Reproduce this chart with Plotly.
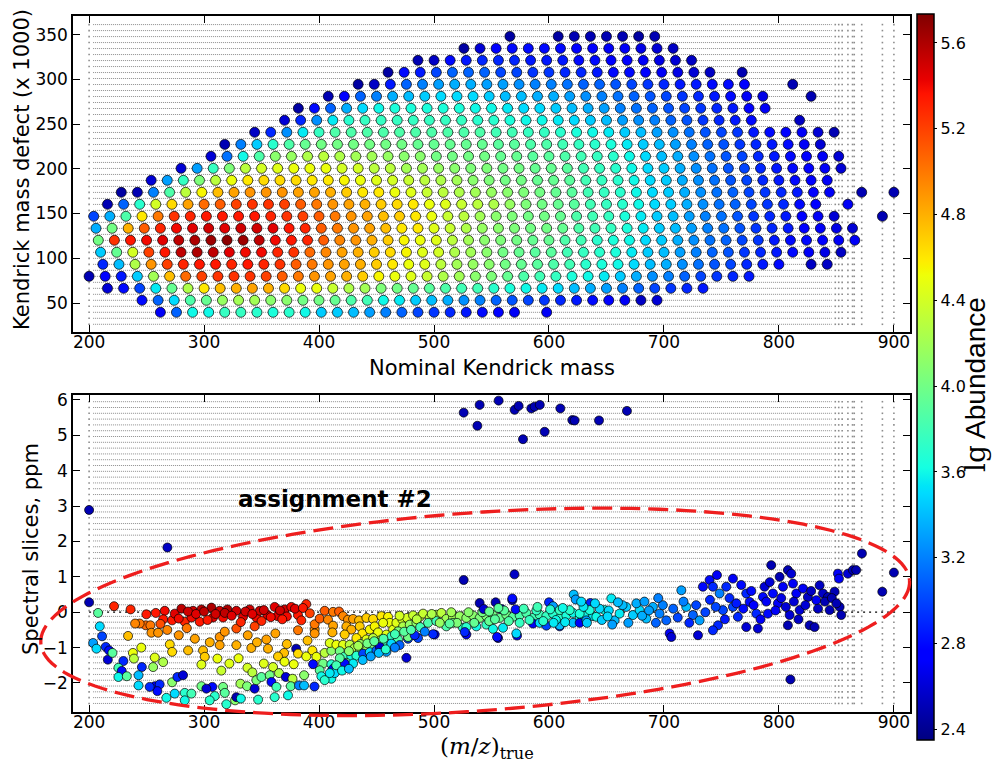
import numpy as np
import plotly.graph_objects as go

# ---------------- TOP PANEL DATA (Kendrick plot) ----------------
# Kendrick mass defect (x1000) of each homologous row (bottom -> top)
KMD_ROWS = [39.6, 53.0, 66.4, 79.8, 93.2, 106.7, 120.1, 133.5, 146.9, 160.3, 173.7, 187.1,
            200.5, 213.9, 227.3, 240.8, 254.2, 267.6, 281.0, 294.4, 307.8, 321.2, 334.6, 348.0]
# first nominal Kendrick mass of each row; members follow every CH2 (14 Da)
ROW_START = [262, 246, 216, 200, 212, 210, 208, 206, 204, 216, 228, 254,
             280, 306, 318, 344, 370, 382, 408, 434, 460, 486, 526, 566]
CH2_STEP = 14
# lg abundance of successive members of each row (None = missing member)
ROW_ABUND = [
    [2.7, 3.1, 3.6, 3.6, 3.75, 3.75, 3.7, 3.65, 3.7, 3.6, 3.45, 3.45, 3.4, 3.3, 3.2, 3.1, 3.0, 2.95, 2.9, 2.85,
     2.8, 2.75, 2.7, None, 2.7],
    [2.8, 3.1, 3.5, 3.85, 3.95, 4.15, 4.2, 4.2, 4.1, 4.1, 4.0, 4.0, 3.95, 3.85, 3.8, 3.6, 3.55, 3.45, 3.4, 3.35,
     3.25, 3.2, 3.1, 3.05, 3.0, 2.95, 2.9, 2.85, 2.8, 2.75, 2.7, 2.55, 2.6],
    [2.6, 2.8, 3.0, 3.55, 3.95, 4.25, 4.6, 4.75, 4.8, 4.85, 4.8, 4.65, 4.5, 4.5, 4.35, 4.25, 4.2, 4.05, 4.0, 3.95,
     3.9, 3.85, 3.8, 3.8, 3.7, 3.65, 3.6, 3.55, 3.5, 3.4, 3.35, 3.3, 3.2, 3.1, 3.0, 2.95, 2.9, 2.85],
    [2.5, 2.75, 2.85, 3.45, 4.2, 4.75, 5.05, 5.2, 5.25, 5.25, 5.25, 5.2, 5.1, 5.0, 4.9, 4.85, 4.8, 4.7, 4.55, 4.5,
     4.45, 4.35, 4.25, 4.2, 4.1, 4.05, 3.95, 3.85, 3.8, 3.75, 3.65, 3.6, 3.55, 3.45, 3.35, 3.25, 3.2, 3.1, 3.0,
     2.95, 2.9, 2.85],
    [2.9, 3.4, 4.25, 4.9, 5.2, 5.3, 5.35, 5.35, 5.3, 5.35, 5.3, 5.25, 5.1, 5.0, 4.9, 4.85, 4.8, 4.7, 4.6, 4.5,
     4.45, 4.3, 4.2, 4.15, 4.1, 4.0, 3.95, 3.9, 3.85, 3.8, 3.7, 3.65, 3.6, 3.5, 3.4, 3.35, 3.25, 3.15, 3.05, 3.0,
     2.9, 2.85, 2.8, None, 2.55, 2.55],
    [3.45, 3.95, 4.4, 5.2, 5.35, 5.55, 5.6, 5.55, 5.45, 5.4, 5.4, 5.3, 5.25, 5.05, 4.95, 4.85, 4.8, 4.7, 4.65, 4.55,
     4.45, 4.4, 4.25, 4.2, 4.1, 4.0, 3.95, 3.9, 3.9, 3.8, 3.75, 3.7, 3.65, 3.55, 3.45, 3.4, 3.3, 3.2, 3.1, 3.05,
     2.95, 2.9, 2.85, 2.8, 2.7, 2.65, 2.55],
    [4.0, 5.25, 5.35, 5.4, 5.45, 5.55, 5.6, 5.65, 5.7, 5.65, 5.55, 5.4, 5.35, 5.3, 5.1, 4.95, 4.9, 4.8, 4.7, 4.55,
     4.5, 4.45, 4.3, 4.2, 4.1, 4.05, 4.0, 3.95, 3.95, 3.85, 3.8, 3.7, 3.65, 3.6, 3.5, 3.45, 3.35, 3.25, 3.15, 3.1,
     3.0, 2.95, 2.85, 2.8, 2.8, 2.75, 2.7, 2.7],
    [3.35, 4.0, 4.8, 5.1, 5.3, 5.4, 5.45, 5.5, 5.45, 5.5, 5.5, 5.45, 5.35, 5.3, 5.1, 5.0, 4.9, 4.85, 4.75, 4.6,
     4.6, 4.45, 4.35, 4.25, 4.15, 4.1, 4.05, 4.0, 4.0, 3.95, 3.85, 3.8, 3.75, 3.65, 3.55, 3.45, 3.4, 3.3, 3.2, 3.15,
     3.05, 2.95, 2.9, 2.85, 2.75, 2.7, 2.65, 2.6],
    [3.0, 3.35, 3.85, 4.6, 5.0, 5.25, 5.3, 5.35, 5.35, 5.35, 5.35, 5.3, 5.25, 5.2, 5.1, 5.0, 4.9, 4.85, 4.75, 4.7,
     4.6, 4.5, 4.35, 4.3, 4.2, 4.1, 4.05, 4.0, 4.0, 3.95, 3.85, 3.8, 3.75, 3.65, 3.55, 3.45, 3.4, 3.3, 3.2, 3.15,
     3.05, 2.95, 2.9, 2.85, 2.75, 2.7, 2.6, None, None, 2.5],
    [2.5, 3.1, 3.7, 4.4, 4.65, 4.85, 5.05, 5.1, 5.2, 5.25, 5.25, 5.2, 5.1, 5.0, 4.9, 4.85, 4.8, 4.7, 4.65, 4.6,
     4.5, 4.45, 4.35, 4.3, 4.25, 4.15, 4.05, 4.0, 3.95, 3.9, 3.8, 3.75, 3.7, 3.6, 3.5, 3.45, 3.35, 3.25, 3.15, 3.1,
     3.0, 2.95, 2.9, 2.8, 2.75, None, 2.7],
    [2.45, 2.5, 3.2, 3.85, 4.3, 4.55, 4.75, 4.85, 4.9, 4.9, 4.9, 4.85, 4.85, 4.8, 4.7, 4.6, 4.6, 4.5, 4.45, 4.35,
     4.3, 4.25, 4.2, 4.15, 4.1, 4.05, 4.0, 3.95, 3.9, 3.8, 3.75, 3.7, 3.6, 3.5, 3.45, 3.35, 3.25, 3.15, 3.1, 3.0,
     2.95, 2.9, 2.85, 2.75, 2.7, None, 2.5, None, 2.5],
    [2.6, 3.3, 3.75, 4.05, 4.3, 4.5, 4.6, 4.65, 4.65, 4.65, 4.6, 4.6, 4.55, 4.5, 4.45, 4.4, 4.35, 4.3, 4.25, 4.2,
     4.1, 4.05, 4.0, 4.0, 3.95, 3.95, 3.9, 3.8, 3.75, 3.7, 3.6, 3.5, 3.45, 3.35, 3.25, 3.15, 3.05, 3.0, 2.9, 2.85,
     2.8, 2.75, 2.7],
    [2.6, 3.3, 3.75, 4.05, 4.3, 4.4, 4.45, 4.5, 4.5, 4.5, 4.4, 4.4, 4.3, 4.3, 4.2, 4.2, 4.15, 4.1, 4.05, 4.05,
     4.0, 4.0, 3.95, 3.95, 3.9, 3.8, 3.75, 3.7, 3.6, 3.5, 3.45, 3.35, 3.25, 3.15, 3.05, 3.0, 2.9, 2.85, 2.8, 2.75,
     2.7, 2.6],
    [2.6, 3.15, 3.6, 3.85, 4.1, 4.15, 4.25, 4.3, 4.25, 4.2, 4.2, 4.15, 4.1, 4.1, 4.0, 4.0, 4.0, 4.0, 3.95, 3.95,
     3.9, 3.9, 3.85, 3.8, 3.75, 3.7, 3.6, 3.5, 3.4, 3.35, 3.25, 3.15, 3.05, 3.0, 2.9, 2.85, 2.8, 2.75, 2.7, 2.6],
    [2.5, 3.2, 3.45, 3.7, 3.85, 3.95, 4.0, 4.0, 4.0, 4.0, 4.0, 4.0, 3.95, 3.95, 3.95, 3.95, 3.95, 3.9, 3.9, 3.85,
     3.85, 3.8, 3.75, 3.7, 3.65, 3.55, 3.45, 3.4, 3.3, 3.2, 3.1, 3.05, 2.95, 2.9, 2.85, 2.8, 2.7, 2.6],
    [2.55, 2.9, 3.25, 3.55, 3.75, 3.85, 3.85, 3.85, 3.85, 3.85, 3.85, 3.85, 3.85, 3.85, 3.85, 3.8, 3.8, 3.75, 3.75,
     3.7, 3.65, 3.6, 3.55, 3.45, 3.4, 3.3, 3.25, 3.15, 3.05, 3.0, 2.95, 2.85, 2.8, 2.75, 2.7, 2.6, 2.5],
    [2.6, 2.9, 3.25, 3.55, 3.7, 3.75, 3.75, 3.75, 3.75, 3.75, 3.75, 3.75, 3.7, 3.7, 3.65, 3.6, 3.6, 3.55, 3.5, 3.45,
     3.4, 3.3, 3.25, 3.2, 3.1, 3.05, 2.95, 2.9, 2.85, 2.8, None, None, 2.55],
    [2.45, 2.8, 3.1, 3.35, 3.5, 3.6, 3.65, 3.65, 3.65, 3.65, 3.65, 3.6, 3.6, 3.55, 3.5, 3.5, 3.45, 3.4, 3.35, 3.3,
     3.2, 3.15, 3.1, 3.05, 3.0, 2.95, 2.9, 2.85, 2.75, 2.7],
    [2.5, 2.75, 3.1, 3.2, 3.35, 3.4, 3.45, 3.5, 3.5, 3.5, 3.45, 3.4, 3.4, 3.35, 3.35, 3.3, 3.25, 3.2, 3.15, 3.1,
     3.05, 3.0, 2.95, 2.9, 2.85, 2.8, 2.7, 2.65, None, None, 2.5],
    [2.45, 2.55, 2.85, 3.1, 3.2, 3.3, 3.35, 3.35, 3.3, 3.3, 3.25, 3.2, 3.2, 3.15, 3.1, 3.1, 3.05, 3.0, 2.95, 2.9,
     2.85, 2.85, 2.8, 2.8, 2.75, None, None, 2.5],
    [2.45, 2.8, 2.85, 3.0, 3.1, 3.1, 3.1, 3.0, 3.0, 2.95, 2.95, 2.9, 2.9, 2.85, 2.8, 2.8, 2.75, 2.7, 2.65, 2.6,
     2.55, None, 2.5],
    [2.5, 2.55, 2.8, 2.85, 2.9, 2.9, 2.9, 2.85, 2.85, 2.85, 2.8, 2.8, 2.75, 2.75, 2.7, 2.65, 2.6, 2.55],
    [2.45, 2.6, 2.75, 2.8, 2.8, 2.8, 2.8, 2.75, 2.75, 2.7, 2.7, 2.65, 2.6, 2.55],
    [2.45, None, None, 2.45, 2.5, 2.5, 2.5, 2.5, 2.45, 2.5],
]

# ---------------- BOTTOM PANEL DATA: (m/z, ppm, lg abundance) ----------------
OUTLIERS = [(525.8, 5.64, 2.5), (539.7, 5.86, 2.5), (537.7, 5.27, 2.5), (556.2, 5.98, 2.5), (570.1, 5.72, 2.5),
            (573.6, 5.83, 2.5), (584.6, 5.76, 2.5), (587.5, 5.81, 2.5), (592.0, 5.86, 2.5), (609.9, 5.76, 2.5),
            (620.3, 5.43, 2.5), (622.3, 5.42, 2.5), (643.5, 5.42, 2.5), (667.8, 5.69, 2.5), (596.2, 5.10, 2.5),
            (577.4, 4.89, 2.5), (200.0, 2.89, 2.5), (268.1, 1.83, 2.55), (200.0, 0.28, 2.5), (525.8, 0.91, 2.5),
            (570.0, 1.07, 2.55), (810.0, -1.90, 2.5), (872.2, 1.66, 2.5), (900.0, 1.12, 2.5), (889.9, 0.58, 2.5)]

RED_BAND = [(207.8, -0.02, 3.9), (221.7, 0.17, 5.3), (236.1, 0.08, 5.3), (249.8, -0.06, 5.35), (249.3, -0.37, 5.05),
            (253.3, -0.37, 5.0), (254.2, -0.58, 4.9), (260.0, -0.58, 4.9), (233.9, -0.67, 4.75), (265.8, 0.04, 5.4),
            (264.4, -0.2, 5.35), (272.2, -0.23, 5.35), (274.5, -0.04, 5.45), (280.3, 0.1, 5.55), (283.2, -0.27, 5.3),
            (290.4, 0.04, 5.5), (289.0, -0.15, 5.4), (296.2, -0.27, 5.35), (297.7, 0.08, 5.55), (306.4, 0.13, 5.6),
            (307.8, -0.15, 5.45), (313.6, 0.04, 5.5), (316.5, -0.15, 5.4), (320.3, 0.08, 5.6), (328.1, 0.04, 5.5),
            (328.1, -0.46, 5.15), (333.9, -0.13, 5.45), (339.7, 0.08, 5.5), (345.5, -0.15, 5.4), (348.4, 0.04, 5.5),
            (355.0, -0.08, 5.45), (361.4, 0.15, 5.45), (363.7, -0.11, 5.45), (370.1, 0.08, 5.5), (375.9, 0.15, 5.4),
            (381.7, -0.08, 5.35), (388.9, 0.23, 5.3), (384.6, -0.23, 5.3), (381.7, -0.51, 5.0), (396.2, -0.49, 4.9),
            (396.2, -0.34, 5.0), (400.6, -0.18, 5.1), (404.9, 0.04, 5.1), (412.2, 0.01, 5.0), (396.2, -0.6, 4.9),
            (244.0, -0.32, 5.0), (240.0, -0.32, 4.95), (258.0, -0.02, 5.35), (286.0, 0.02, 5.5), (293.0, -0.05, 5.45),
            (300.0, 0.02, 5.55), (310.0, -0.05, 5.5), (318.0, -0.02, 5.55), (324.0, -0.1, 5.45), (336.0, 0.02, 5.5),
            (342.0, -0.05, 5.45), (352.0, 0.06, 5.5), (358.0, -0.14, 5.4), (366.0, 0.05, 5.5), (372.0, -0.12, 5.4),
            (379.0, 0.1, 5.45), (386.0, 0.12, 5.35), (392.0, -0.03, 5.2), (278.0, -0.18, 5.4), (303.0, -0.22, 5.35),
            (332.0, -0.28, 5.3), (350.0, -0.25, 5.3), (368.0, -0.2, 5.35), (262.0, -0.33, 5.15), (344.0, -0.4, 5.2)]

MID_LEFT = [(313.6, -0.7, 4.9), (313.6, -0.93, 4.85), (328.1, -0.93, 4.8), (354.2, -0.77, 4.85), (341.1, -1.01, 4.8),
            (355.6, -1.03, 4.8), (299.1, -1.08, 4.75), (300.6, -1.26, 4.7), (286.1, -1.08, 4.75), (270.2, -0.91, 4.65),
            (272.2, -1.12, 4.65), (245.4, -1.0, 4.5), (238.1, -1.15, 4.5), (239.0, -1.31, 4.3), (257.1, -1.28, 4.45),
            (255.7, -1.55, 4.15), (264.4, -1.41, 4.25), (311.6, -1.31, 4.5), (297.7, -1.48, 4.45), (337.7, -1.57, 4.4),
            (369.6, -1.15, 4.75), (364.3, -1.25, 4.7), (378.0, -1.47, 4.5), (380.1, -1.03, 2.5), (381.7, -1.17, 4.65),
            (388.9, -1.25, 4.5), (394.2, -1.08, 4.6), (397.7, -1.26, 4.5), (394.8, -1.47, 2.8), (404.9, -1.15, 4.3),
            (410.7, -1.09, 4.1), (403.5, -1.45, 4.0), (400.6, -1.64, 3.9), (402.0, -1.81, 3.6), (410.7, -1.47, 3.7),
            (410.7, -1.69, 3.6), (318.0, -0.55, 4.9), (338.0, -0.65, 4.85), (346.0, -0.85, 4.8), (362.0, -0.6, 4.85),
            (372.0, -0.9, 4.75), (390.0, -0.8, 4.75), (305.0, -0.85, 4.8), (292.0, -0.75, 4.85), (278.0, -0.65, 4.9),
            (268.0, -0.5, 4.95), (285.0, -0.45, 5.0), (322.0, -1.45, 4.45), (330.0, -1.3, 4.5), (352.0, -1.45, 4.45),
            (360.0, -1.55, 4.4), (370.0, -1.4, 4.5), (342.0, -1.7, 4.3), (315.0, -1.65, 4.35)]

LOWER_LEFT = [(209.3, -0.4, 3.5), (211.3, -0.68, 3.0), (203.5, -0.87, 3.3), (206.4, -1.03, 3.5), (214.5, -0.98, 2.9),
              (217.4, -1.08, 2.8), (216.3, -1.34, 2.6), (220.3, -1.15, 3.9), (229.8, -1.38, 2.9), (225.5, -1.57, 3.8),
              (228.4, -1.66, 2.8), (225.5, -1.83, 3.6), (232.8, -1.81, 3.9), (245.9, -1.55, 2.9), (243.0, -1.78, 3.4),
              (243.0, -2.07, 3.5), (257.1, -2.09, 2.7), (261.4, -2.04, 2.9), (259.4, -2.23, 2.8), (252.7, -2.11, 2.9),
              (272.2, -1.98, 4.1), (276.8, -1.83, 2.9), (281.7, -1.78, 2.6), (267.2, -2.42, 3.6), (274.5, -2.3, 3.5),
              (283.2, -2.28, 3.7), (289.0, -2.3, 3.8), (283.2, -2.49, 3.6), (297.7, -2.09, 4.0), (307.2, -2.11, 2.8),
              (302.0, -2.16, 2.6), (309.3, -2.37, 3.7), (304.9, -2.49, 3.7), (316.5, -2.11, 4.0), (318.0, -2.28, 3.9),
              (319.4, -2.6, 3.7), (331.6, -2.02, 4.2), (337.4, -2.09, 4.05), (344.0, -2.16, 2.6), (345.5, -1.92, 4.05),
              (349.9, -1.83, 3.9), (357.1, -1.78, 4.0), (358.6, -1.97, 2.8), (365.2, -1.72, 4.25), (362.9, -2.11, 3.8),
              (371.1, -1.83, 2.6), (376.9, -1.88, 4.3), (375.4, -2.09, 3.9), (347.0, -2.47, 3.7), (361.4, -2.4, 3.7),
              (382.6, -2.07, 3.2), (387.0, -2.07, 3.4), (387.0, -1.78, 4.1), (396.0, -2.1, 2.9), (410.7, -1.88, 3.6),
              (404.9, -1.92, 3.7), (327.0, -2.49, 4.1), (328.1, -2.4, 2.5), (332.0, -2.44, 3.6), (373.0, -2.35, 3.6)]

MID_BAND = [(417.4, 0.02, 5.1), (420.9, -0.11, 4.95), (425.2, -0.21, 4.9), (429.6, -0.19, 4.85), (434.8, -0.23, 4.75),
            (441.2, -0.16, 4.7), (447.0, -0.19, 4.65), (454.2, -0.11, 4.6), (460.0, -0.13, 4.55), (461.5, -0.3, 4.5),
            (407.8, -0.21, 4.95), (412.2, -0.38, 4.85), (411.6, -0.57, 4.8), (423.8, -0.4, 4.8), (428.1, -0.49, 4.8),
            (422.3, -0.63, 4.7), (435.4, -0.4, 4.7), (437.7, -0.6, 4.6), (444.1, -0.49, 4.55), (448.4, -0.4, 4.55),
            (451.3, -0.57, 4.5), (455.7, -0.3, 4.5), (441.2, -0.77, 4.45), (447.0, -0.73, 4.3), (432.5, -0.73, 4.6),
            (454.2, -0.77, 4.3), (458.6, -0.63, 4.45), (464.4, -0.49, 4.45), (467.3, -0.3, 4.45), (472.5, -0.21, 4.4),
            (476.5, -0.16, 4.4), (481.8, -0.09, 4.35), (487.6, -0.13, 4.3), (490.5, -0.04, 4.35), (496.2, -0.16, 4.3),
            (502.0, -0.07, 4.25), (506.4, -0.02, 4.3), (510.7, -0.19, 4.2), (516.5, -0.16, 4.2), (522.3, -0.11, 4.15),
            (528.1, -0.16, 4.1), (533.9, -0.09, 4.1), (539.7, -0.16, 4.05), (545.5, -0.11, 4.05), (551.3, -0.09, 4.0),
            (557.1, -0.16, 3.95), (562.9, -0.07, 4.0), (568.7, -0.13, 3.9), (574.5, -0.09, 3.85), (580.3, -0.02, 3.85),
            (586.1, -0.16, 3.8), (591.9, -0.07, 3.8), (597.7, -0.11, 3.75), (603.5, -0.04, 3.7), (609.3, -0.16, 3.7),
            (615.1, -0.09, 3.65), (620.9, -0.02, 3.6), (626.7, -0.16, 3.6), (632.5, -0.09, 3.6), (638.3, -0.11, 3.55),
            (473.1, -0.4, 4.25), (478.9, -0.35, 4.15), (484.7, -0.3, 4.1), (468.7, -0.54, 4.05), (463.0, -0.68, 3.75),
            (477.4, -0.75, 3.0), (486.1, -0.73, 3.0), (500.6, -0.63, 2.7), (494.8, -0.3, 3.85), (502.0, -0.25, 3.8),
            (510.7, -0.4, 3.85), (516.5, -0.3, 4.0), (525.2, -0.44, 3.7), (528.1, -0.63, 2.7), (536.8, -0.4, 3.6),
            (545.5, -0.35, 3.75), (551.3, -0.47, 3.6), (555.7, -0.73, 2.6), (560.0, -0.44, 3.55), (572.2, -0.66, 2.8),
            (574.5, -0.3, 3.75), (586.1, -0.32, 2.7), (591.9, -0.3, 3.5), (597.7, -0.38, 3.0), (609.3, -0.4, 2.9),
            (620.9, -0.3, 3.4), (626.7, -0.3, 2.7), (632.5, -0.23, 3.3), (470.0, -0.1, 4.4), (485.0, -0.2, 4.3),
            (498.0, -0.05, 4.25), (505.0, -0.3, 4.15), (515.0, 0.0, 4.2), (520.0, -0.3, 4.05), (530.0, 0.0, 4.1),
            (535.0, -0.3, 3.95), (542.0, 0.0, 4.0), (548.0, -0.25, 3.95),
            (621.5, 0.5, 3.4), (623.2, 0.36, 3.3), (539.7, 0.26, 2.5), (553.6, 0.28, 2.5), (568.1, 0.34, 2.5),
            (558.6, 0.09, 2.8), (543.2, 0.09, 2.6), (571.0, 0.08, 2.8), (600.0, 0.28, 2.9), (603.5, 0.17, 3.3),
            (636.0, 0.26, 2.9)]

MID_LOWER = [(409.3, -0.87, 4.45), (415.1, -0.92, 4.5), (420.9, -0.92, 4.45), (426.7, -0.92, 4.3), (431.0, -1.01, 4.25),
             (435.4, -1.1, 4.1), (441.2, -1.01, 4.2), (447.0, -0.96, 4.05), (452.8, -0.87, 4.05), (457.1, -0.96, 3.8),
             (462.9, -0.92, 2.9), (468.7, -0.77, 3.85), (418.0, -1.1, 4.0), (422.3, -1.25, 3.8), (428.1, -1.25, 3.6),
             (432.5, -1.23, 3.7), (438.3, -1.17, 3.0), (444.1, -1.13, 3.5), (449.9, -1.08, 3.1), (423.8, -1.43, 4.0),
             (429.6, -1.45, 3.55), (422.3, -1.45, 2.8), (412.2, -1.6, 2.8), (413.6, -1.72, 3.5), (409.3, -1.72, 3.55),
             (476.0, -1.29, 2.6), (458.6, -1.12, 3.3), (452.8, -0.98, 2.6), (462.9, -0.89, 3.5), (470.1, -0.93, 3.1),
             (477.4, -0.7, 4.0), (483.2, -0.65, 2.9), (499.1, -0.62, 2.9), (513.6, -0.32, 3.9), (528.1, -0.42, 3.7),
             (526.7, -0.56, 2.9), (436.0, -0.9, 4.15), (442.0, -0.88, 4.0), (448.0, -0.82, 3.9), (456.0, -0.75, 3.85),
             (466.0, -0.62, 3.8), (474.0, -0.55, 3.9), (480.0, -0.5, 3.85), (488.0, -0.42, 3.8), (492.0, -0.55, 3.2),
             (438.0, -1.35, 3.4), (445.0, -1.25, 3.3), (452.0, -1.15, 3.4), (458.0, -1.05, 3.7), (466.0, -1.0, 3.2),
             (418.0, -1.3, 3.9), (426.0, -1.1, 4.1), (434.0, -0.95, 4.2), (415.0, -1.5, 3.8), (420.0, -1.65, 3.6),
             (426.0, -1.6, 3.4)]

RIGHT_BAND = [(554.8, -0.7, 2.8), (571.6, -0.6, 3.5), (568.1, 0.39, 2.8), (609.3, -0.37, 3.4), (609.3, 0.06, 3.75),
              (618.0, 0.06, 3.7), (626.7, -0.04, 3.65), (635.4, 0.06, 3.65), (641.2, -0.13, 3.6), (648.4, 0.06, 3.6),
              (654.2, 0.39, 3.55), (657.1, -0.23, 3.4), (661.4, -0.04, 3.55), (667.2, 0.15, 3.45), (673.0, -0.08, 3.45),
              (678.8, 0.06, 3.5), (684.6, -0.18, 3.4), (690.4, 0.15, 3.35), (696.2, -0.04, 3.2), (702.0, -0.23, 3.1),
              (704.9, -0.6, 2.7), (706.4, -0.7, 2.6), (715.1, 0.62, 3.3), (719.4, 0.15, 3.4), (725.2, -0.08, 3.1),
              (731.0, -0.23, 3.3), (729.6, -0.65, 2.6), (733.9, 0.72, 2.8), (739.7, 0.91, 2.8), (742.6, 0.72, 2.9),
              (746.1, 1.05, 2.7), (748.4, 0.53, 3.2), (751.3, 0.06, 3.0), (747.0, -0.37, 2.9), (742.6, -0.51, 2.9),
              (754.2, 0.72, 2.9), (760.0, 0.95, 2.7), (760.0, 0.15, 3.0), (764.3, -0.13, 2.9), (767.2, 0.77, 2.8),
              (771.6, -0.42, 2.6), (771.6, 0.53, 2.9), (774.5, 0.29, 2.8), (780.3, -0.04, 2.9), (781.7, -0.46, 2.6),
              (786.1, 0.43, 2.8), (787.5, 0.72, 2.6), (790.4, -0.04, 2.8), (793.3, 1.33, 2.5), (794.8, 0.53, 2.8),
              (799.1, 0.25, 2.7), (800.6, 1.0, 2.5), (803.5, 0.72, 2.7), (807.8, 1.19, 2.5), (810.7, 1.09, 2.6),
              (809.3, -0.08, 2.6), (807.8, -0.37, 2.5), (812.2, 0.81, 2.7), (815.1, 0.53, 2.7), (818.0, 0.06, 2.6),
              (820.9, 0.67, 2.7), (825.2, 0.43, 2.55), (826.7, -0.37, 2.5), (831.0, -0.42, 2.5), (832.5, 0.34, 2.7),
              (835.4, 0.76, 2.55), (838.3, 0.53, 2.55), (842.6, 0.43, 2.5), (844.1, 0.06, 2.5), (848.4, 0.58, 2.5),
              (851.3, 1.09, 2.7), (852.2, 0.95, 2.7), (852.8, 0.15, 2.5), (854.2, -0.08, 2.5), (860.0, 1.09, 2.6),
              (864.3, 1.19, 2.5), (867.2, 1.19, 2.5),
              (548.0, 0.02, 3.95), (553.0, -0.2, 3.9), (561.0, 0.05, 3.9), (565.0, -0.25, 3.85), (578.0, 0.1, 3.8),
              (583.0, -0.22, 3.75), (589.0, 0.05, 3.75), (595.0, -0.25, 3.7), (601.0, 0.08, 3.7), (606.0, -0.22, 3.6),
              (612.0, 0.12, 3.6), (614.0, -0.28, 3.55), (630.0, 0.15, 3.55), (633.0, -0.3, 3.45), (644.0, 0.1, 3.5),
              (646.0, -0.22, 3.45), (652.0, 0.05, 3.5), (655.0, -0.35, 3.3), (664.0, 0.2, 3.4), (669.0, -0.3, 3.3),
              (676.0, 0.25, 3.35), (681.0, -0.1, 3.35), (687.0, 0.05, 3.3), (693.0, -0.3, 3.1), (699.0, 0.2, 3.2),
              (708.0, 0.1, 3.1), (712.0, -0.15, 3.0), (717.0, 0.3, 3.2), (722.0, -0.3, 2.9), (728.0, 0.2, 3.0),
              (736.0, 0.0, 3.0), (740.0, 0.35, 2.9), (745.0, 0.15, 3.0), (753.0, -0.2, 2.85), (757.0, 0.4, 2.9),
              (763.0, 0.25, 2.85), (769.0, 0.1, 2.8), (776.0, 0.6, 2.8), (778.0, 0.2, 2.75), (784.0, -0.2, 2.7),
              (789.0, 0.3, 2.7), (792.0, 0.85, 2.6), (797.0, 0.05, 2.7), (802.0, 0.4, 2.65), (806.0, 0.15, 2.6),
              (813.0, 0.3, 2.6), (817.0, -0.2, 2.55), (823.0, 0.2, 2.6), (828.0, 0.6, 2.55), (834.0, 0.1, 2.55),
              (840.0, 0.3, 2.5), (846.0, 0.4, 2.5), (850.0, 0.25, 2.5), (556.0, 0.12, 3.9), (590.0, 0.15, 3.8),
              (604.0, -0.3, 3.55), (628.0, 0.3, 3.5), (640.0, 0.25, 3.5), (651.0, -0.12, 3.5), (660.0, 0.28, 3.4),
              (683.0, 0.3, 3.3), (695.0, 0.4, 3.2)]

X_TICKS = [200, 300, 400, 500, 600, 700, 800, 900]
KMD_TICKS = [50, 100, 150, 200, 250, 300, 350]
PPM_TICKS = [-2, -1, 0, 1, 2, 3, 4, 5, 6]
CBAR_TICKS = [2.4, 2.8, 3.2, 3.6, 4.0, 4.4, 4.8, 5.2, 5.6]
# sparse m/z columns of the spectral-slice mesh beyond the dense region
SPARSE_MZ = [200, 849, 852, 855, 860, 864, 865.5, 872, 890, 900]

# ---------------- layout geometry ----------------
W, H = 995, 768
ML, MR, MT, MB = 73, 85, 16, 56
XR = [186, 914]
TOP_YR = [17.6, 370.8]
BOT_YR = [-2.82, 6.14]
TOP_DOM = [0.546, 1.0]
BOT_DOM = [0.0, 0.4555]

# matplotlib "jet"
bp = [0, 0.11, 0.125, 0.34, 0.35, 0.375, 0.64, 0.65, 0.66, 0.89, 0.91, 1.0]
rr = np.interp(bp, [0, 0.35, 0.66, 0.89, 1], [0, 0, 1, 1, 0.5])
gg = np.interp(bp, [0, 0.125, 0.375, 0.64, 0.91, 1], [0, 0, 1, 1, 0, 0])
bb = np.interp(bp, [0, 0.11, 0.34, 0.65, 1], [0.5, 1, 1, 0, 0])
JET = [[t, f"rgb({int(round(r*255))},{int(round(g*255))},{int(round(b*255))})"] for t, r, g, b in zip(bp, rr, gg, bb)]

# ---------------- build top data ----------------
tx, ty, tc = [], [], []
for kmd, start, ab in zip(KMD_ROWS, ROW_START, ROW_ABUND):
    for i, v in enumerate(ab):
        if v is None:
            continue
        tx.append(start + CH2_STEP * i)
        ty.append(kmd)
        tc.append(v)

bottom = OUTLIERS + RED_BAND + MID_LEFT + LOWER_LEFT + MID_BAND + MID_LOWER + RIGHT_BAND
bx = [p[0] for p in bottom]
by = [p[1] for p in bottom]
bc = [p[2] for p in bottom]

fig = go.Figure()

# spectral-slice mesh (dotted background)
top_levels = [39.6 + 6.7 * j for j in range(-2, 49)]
bot_levels = [5.95 - 0.164 * j for j in range(0, 53)]


def mesh(levels, xa, ya):
    lx, ly = [], []
    for lv in levels:
        lx += [203.5, 846, None]
        ly += [lv, lv, None]
    fig.add_trace(go.Scatter(x=lx, y=ly, mode="lines", xaxis=xa, yaxis=ya, hoverinfo="skip",
                             line=dict(color="#8c8c8c", width=1, dash="1px,1px"), showlegend=False))
    px_, py_ = [], []
    for c in SPARSE_MZ:
        for lv in levels:
            px_.append(c)
            py_.append(lv)
    fig.add_trace(go.Scatter(x=px_, y=py_, mode="markers", xaxis=xa, yaxis=ya, hoverinfo="skip",
                             marker=dict(size=1.6, color="#8c8c8c", symbol="square"), showlegend=False))


mesh(top_levels, "x", "y")
mesh(bot_levels, "x2", "y2")

# zero reference line
fig.add_trace(go.Scatter(x=[200, 902], y=[0, 0], mode="lines", xaxis="x2", yaxis="y2",
                         line=dict(color="black", width=1.3, dash="2px,4px"), showlegend=False, hoverinfo="skip"))

fig.add_trace(go.Scatter(x=tx, y=ty, mode="markers", xaxis="x", yaxis="y", showlegend=False,
                         marker=dict(size=10, color=tc, coloraxis="coloraxis",
                                     line=dict(color="black", width=0.7))))
fig.add_trace(go.Scatter(x=bx, y=by, mode="markers", xaxis="x2", yaxis="y2", showlegend=False,
                         marker=dict(size=9, color=bc, coloraxis="coloraxis",
                                     line=dict(color="black", width=0.7))))

# ---------------- ellipse (defined in data units of lower panel) ----------------
ELL_LEFT = (158.0, -0.88)
ELL_RIGHT = (913.6, 0.90)
ELL_HALF_PPM = 2.80
pw, ph = W - ML - MR, H - MT - MB
bot_top_px = MT + (1 - BOT_DOM[1]) * ph
bot_h_px = (BOT_DOM[1] - BOT_DOM[0]) * ph


def to_px(x, y):
    return (ML + (x - XR[0]) / (XR[1] - XR[0]) * pw,
            bot_top_px + (BOT_YR[1] - y) / (BOT_YR[1] - BOT_YR[0]) * bot_h_px)


(lx0, ly0), (rx0, ry0) = to_px(*ELL_LEFT), to_px(*ELL_RIGHT)
cx, cy = (lx0 + rx0) / 2, (ly0 + ry0) / 2
a = np.hypot(rx0 - lx0, ry0 - ly0) / 2
th = np.arctan2(ry0 - ly0, rx0 - lx0)
b = ELL_HALF_PPM * bot_h_px / (BOT_YR[1] - BOT_YR[0])
tt = np.linspace(0, 2 * np.pi, 181)
ex = cx + a * np.cos(tt) * np.cos(th) - b * np.sin(tt) * np.sin(th)
ey = cy + a * np.cos(tt) * np.sin(th) + b * np.sin(tt) * np.cos(th)
path = "M " + " L ".join(f"{(x - ML) / pw:.5f},{(H - MB - y) / ph:.5f}" for x, y in zip(ex, ey))

fig.add_shape(type="path", path=path, xref="paper", yref="paper", layer="above",
              line=dict(color="rgb(238,30,30)", width=3.3, dash="20px,8px"))

axis_common = dict(showline=True, linecolor="black", linewidth=1.5, mirror="allticks", ticks="inside",
                   ticklen=7, tickwidth=1, tickcolor="black", showgrid=False, zeroline=False,
                   tickfont=dict(family="DejaVu Sans", size=17, color="black"))

fig.update_layout(
    width=W, height=H, margin=dict(l=ML, r=MR, t=MT, b=MB),
    paper_bgcolor="white", plot_bgcolor="white",
    xaxis=dict(domain=[0, 1], range=XR, anchor="y", tickvals=X_TICKS, ticklabelstandoff=-6, **axis_common),
    yaxis=dict(domain=TOP_DOM, range=TOP_YR, anchor="x", tickvals=KMD_TICKS, **axis_common),
    xaxis2=dict(domain=[0, 1], range=XR, anchor="y2", tickvals=X_TICKS, ticklabelstandoff=-6, **axis_common),
    yaxis2=dict(domain=BOT_DOM, range=BOT_YR, anchor="x2", tickvals=PPM_TICKS, **axis_common),
    coloraxis=dict(colorscale=JET, cmin=2.35, cmax=5.735,
                   colorbar=dict(x=(917 - ML) / pw, xanchor="left", xpad=0, ypad=0, thickness=17,
                                 lenmode="pixels", len=726, y=(H - MB - 377) / ph, yanchor="middle",
                                 outlinewidth=1.5, outlinecolor="black", tickvals=CBAR_TICKS,
                                 ticktext=[f"{v:.1f}" for v in CBAR_TICKS], ticks="outside", ticklen=3,
                                 tickcolor="black",
                                 tickfont=dict(family="DejaVu Sans", size=16, color="black"))),
    font=dict(family="DejaVu Sans", color="black"),
)


def pxx(px):
    return (px - ML) / pw


def pxy(py):
    return (H - MB - py) / ph


fig.add_annotation(text="Nominal Kendrick mass", x=pxx(491.5), y=pxy(368), xref="paper", yref="paper",
                   showarrow=False, font=dict(size=21), xanchor="center", yanchor="middle")
fig.add_annotation(text="Kendrick mass defect (x 1000)", x=pxx(22), y=pxy(170), xref="paper", yref="paper",
                   showarrow=False, textangle=-90, font=dict(size=21), xanchor="center", yanchor="middle")
fig.add_annotation(text="Spectral slices, ppm", x=pxx(31), y=pxy(549), xref="paper", yref="paper",
                   showarrow=False, textangle=-90, font=dict(size=21), xanchor="center", yanchor="middle")
fig.add_annotation(text="(<i>m</i>/<i>z</i>)<sub>true</sub>", x=pxx(487), y=pxy(748), xref="paper",
                   yref="paper", showarrow=False, font=dict(size=23, family="DejaVu Serif"),
                   xanchor="center", yanchor="middle")
fig.add_annotation(text="<b>assignment #2</b>", x=pxx(335), y=pxy(499), xref="paper", yref="paper",
                   showarrow=False, font=dict(size=23), xanchor="center", yanchor="middle")
fig.add_annotation(text="<span style='font-family:DejaVu Serif'>lg</span> Abundance", x=pxx(975), y=pxy(385),
                   xref="paper", yref="paper", showarrow=False, textangle=-90,
                   font=dict(size=28, family="Liberation Sans"), xanchor="center", yanchor="middle")

fig.write_html("out.html")
